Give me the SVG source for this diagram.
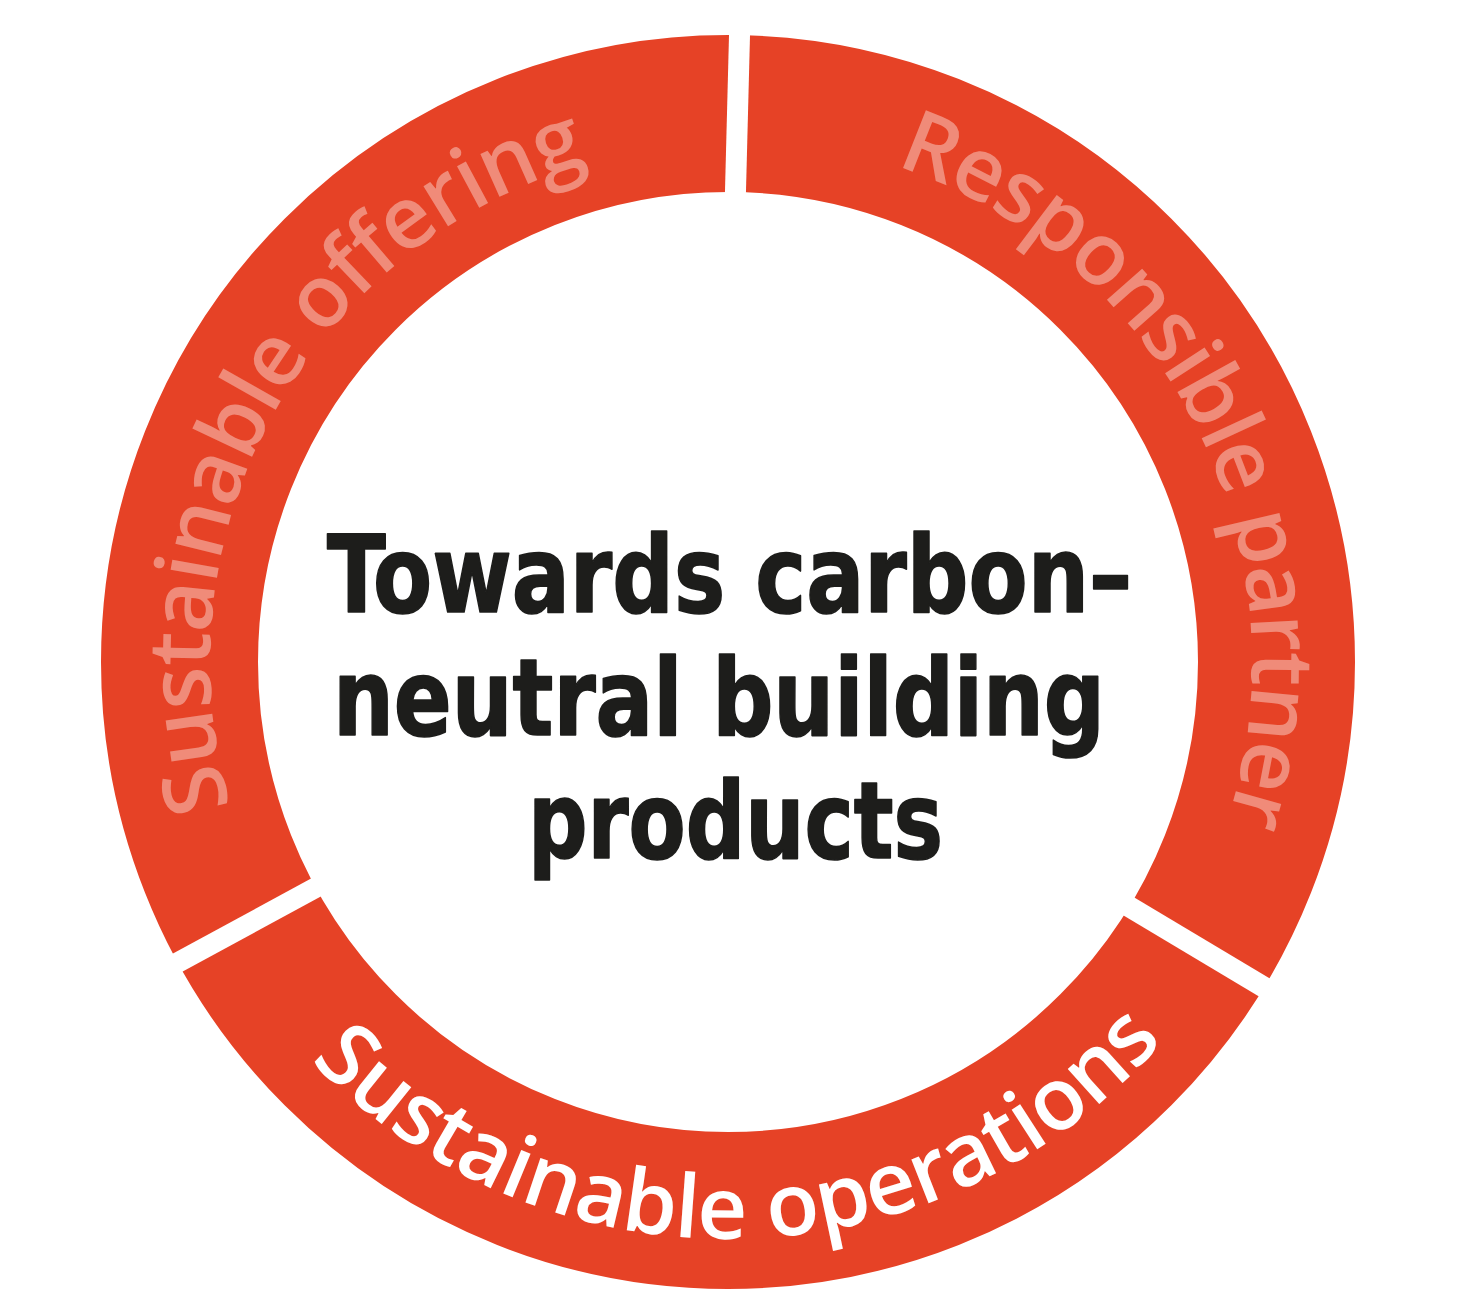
<svg xmlns="http://www.w3.org/2000/svg" xmlns:xlink="http://www.w3.org/1999/xlink" width="1457" height="1292" viewBox="0 0 1457 1292">
  <style>
    .ring { fill: none; stroke: #E64226; stroke-width: 157; }
    .gap { stroke: #FFFFFF; stroke-linecap: butt; }
    .arc { font-family: "Open Sans", "Noto Sans", "DejaVu Sans", sans-serif; font-size: 87px; font-weight: 600; }
    .pink { fill: #F08B79; }
    .white { fill: #FFFFFF; }
    .title { font-family: "DejaVu Sans Condensed", "DejaVu Sans", sans-serif; font-weight: bold; font-stretch: condensed; font-size: 107px; fill: #1D1D1B; stroke: #1D1D1B; stroke-width: 1.6; stroke-linejoin: round; }
  </style>
  <defs>
    <path id="pLeft" d="M 438.3 1091.4 A 518 518 0 0 1 938.7 188.8"/>
    <path id="pRight" d="M 523.3 179.7 A 524 524 0 0 1 1013.4 1101.5"/>
    <path id="pBottom" d="M 154.5 725.3 A 577 577 0 0 0 1303.8 699.2"/>
  </defs>
  <rect x="0" y="0" width="1457" height="1292" fill="#FFFFFF"/>

  <g id="ring">
    <circle class="ring" cx="728" cy="662" r="548.5"/>
  </g>

  <g id="separators">
    <line class="gap" x1="739.9" y1="20" x2="735" y2="210" stroke-width="21"/>
    <line class="gap" x1="159.4" y1="972.6" x2="331.6" y2="879" stroke-width="20.5"/>
    <line class="gap" x1="1114.3" y1="897.7" x2="1282.7" y2="998.3" stroke-width="21"/>
  </g>

  <g id="segment-sustainable-offering">
    <text class="arc pink" letter-spacing="-1.3"><textPath xlink:href="#pLeft" href="#pLeft" startOffset="50%" text-anchor="middle">Sustainable offering</textPath></text>
  </g>

  <g id="segment-responsible-partner">
    <text class="arc pink" letter-spacing="-1.9"><textPath xlink:href="#pRight" href="#pRight" startOffset="50.6%" text-anchor="middle">Responsible partner</textPath></text>
  </g>

  <g id="segment-sustainable-operations">
    <text class="arc white" letter-spacing="-0.3"><textPath xlink:href="#pBottom" href="#pBottom" startOffset="50%" text-anchor="middle">Sustainable operations</textPath></text>
  </g>

  <g id="center-title">
    <text class="title" x="327" y="612" textLength="805" lengthAdjust="spacingAndGlyphs">Towards carbon–</text>
    <text class="title" x="333" y="735" textLength="772" lengthAdjust="spacingAndGlyphs">neutral building</text>
    <text class="title" x="528" y="858" textLength="415" lengthAdjust="spacingAndGlyphs">products</text>
  </g>
</svg>
